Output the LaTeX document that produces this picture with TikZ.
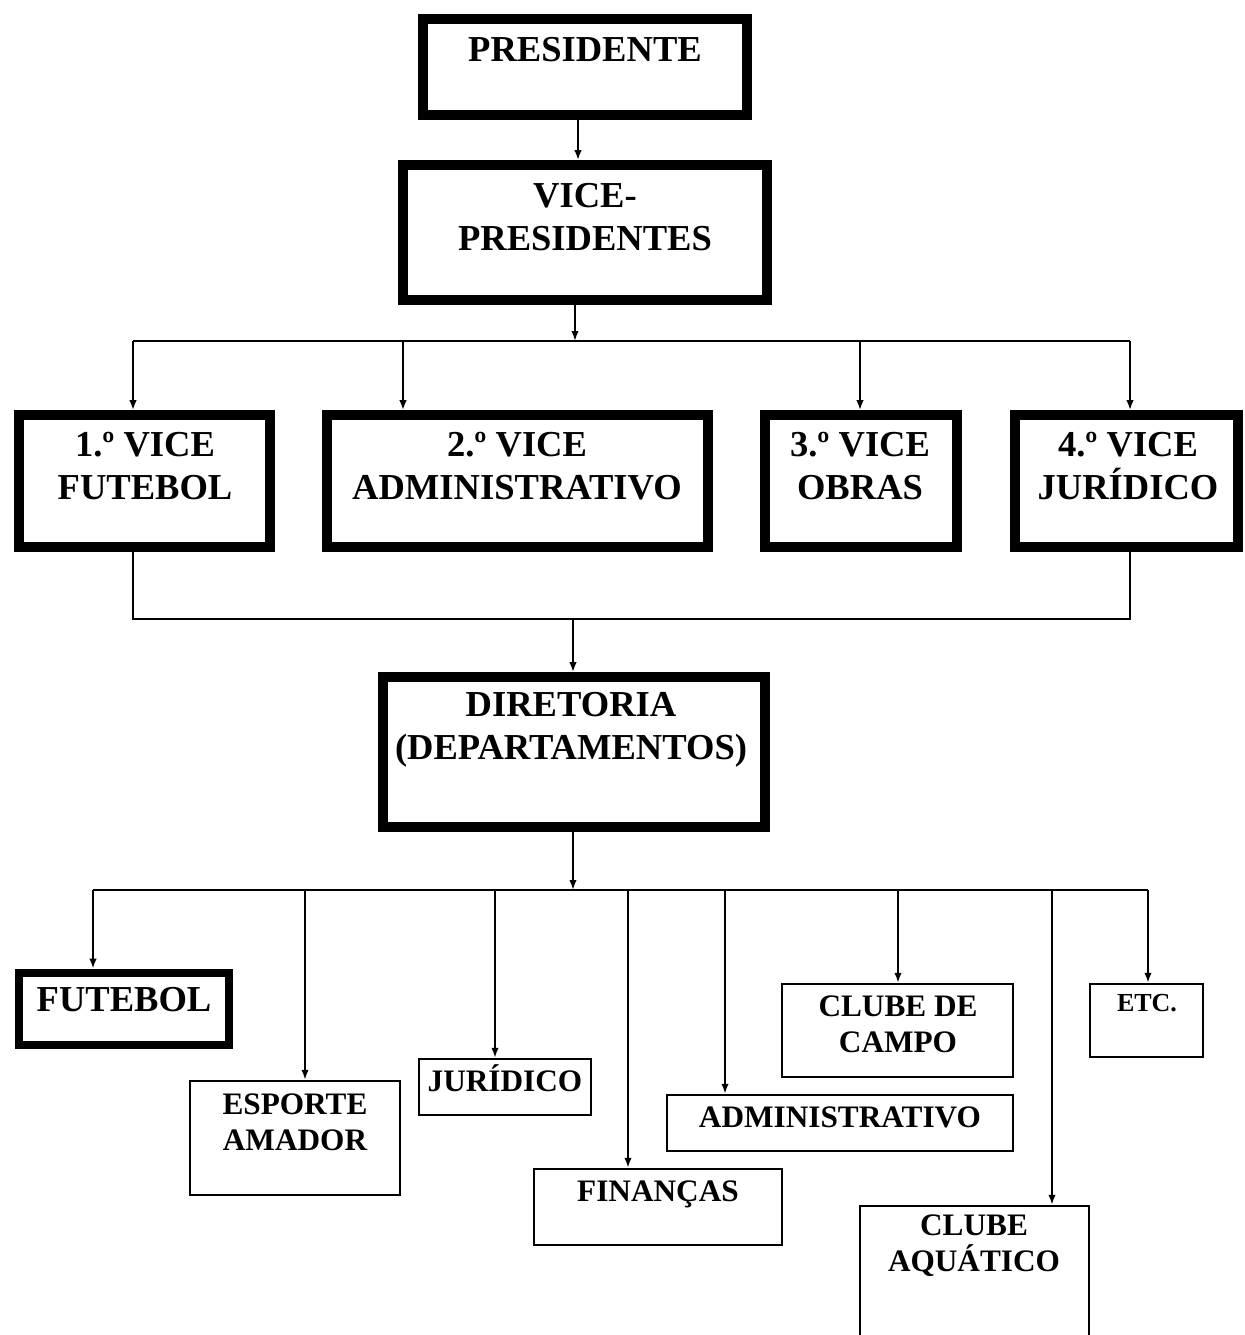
\documentclass[tikz,border=0pt]{standalone}
\usepackage{fontspec}
\setmainfont{Liberation Serif}
\usetikzlibrary{arrows.meta, fit}

\begin{document}
\begin{tikzpicture}[x=0.02cm, y=-0.02cm,
        thickbox/.style={draw, line width=5.5pt, inner sep=0pt},
        thinbox/.style={draw, line width=1.4pt, inner sep=0pt},
        bigtext/.style={font=\fontsize{20.8}{24.5}\selectfont\bfseries, align=center, inner sep=0pt},
        smalltext/.style={font=\fontsize{17.8}{20.5}\selectfont\bfseries, align=center, inner sep=0pt},
        wire/.style={line width=1.1pt},
        conn/.style={wire, -{Latex[length=2mm, width=1.5mm]}}]
        \useasboundingbox (0,0) rectangle (1244,1335);
        % President and vice-presidents
        \node[thickbox, fit={(423,19) (747,115)}] (pres) {};
        \node[bigtext] (presT) at (585,50) {PRESIDENTE};
        \node[thickbox, fit={(403,165) (767,300)}] (vice) {};
        \node[bigtext] (viceT) at (585,217) {VICE-\\PRESIDENTES};
        % Four vice-presidencies
        \node[thickbox, fit={(19,415) (270,547)}] (vone) {};
        \node[bigtext] (voneT) at (145,466) {1.º VICE\\FUTEBOL};
        \node[thickbox, fit={(327,415) (708,547)}] (vtwo) {};
        \node[bigtext] (vtwoT) at (517,466) {2.º VICE\\ADMINISTRATIVO};
        \node[thickbox, fit={(765,415) (957,547)}] (vthree) {};
        \node[bigtext] (vthreeT) at (860,466) {3.º VICE\\OBRAS};
        \node[thickbox, fit={(1015,415) (1238,547)}] (vfour) {};
        \node[bigtext] (vfourT) at (1128,466) {4.º VICE\\JURÍDICO};
        % Board
        \node[thickbox, fit={(383,677) (765,827)}] (dir) {};
        \node[bigtext] (dirT) at (571,730) {DIRETORIA\\(DEPARTAMENTOS)};
        % Departments
        \node[thickbox, line width=5pt, fit={(19,973) (229,1045)}] (fut) {};
        \node[bigtext] (futT) at (124,1000) {FUTEBOL};
        \node[thinbox, fit={(190,1081) (400,1195)}] (esp) {};
        \node[smalltext] (espT) at (295,1122) {ESPORTE\\AMADOR};
        \node[thinbox, fit={(419,1059) (591,1115)}] (jur) {};
        \node[smalltext] (jurT) at (505,1078) {JURÍDICO};
        \node[thinbox, fit={(534,1169) (782,1245)}] (fin) {};
        \node[smalltext] (finT) at (658,1194) {FINANÇAS};
        \node[thinbox, fit={(667,1095) (1013,1151)}] (adm) {};
        \node[smalltext] (admT) at (840,1117) {ADMINISTRATIVO};
        \node[thinbox, fit={(782,984) (1013,1077)}] (campo) {};
        \node[smalltext] (campoT) at (898,1024) {CLUBE DE\\CAMPO};
        \node[thinbox, fit={(860,1206) (1089,1360)}] (aqua) {};
        \node[smalltext] (aquaT) at (974,1246) {CLUBE\\AQUÁTICO};
        \node[thinbox, fit={(1090,984) (1203,1057)}] (etc) {};
        \node[smalltext, font=\fontsize{14.8}{17}\selectfont\bfseries] (etcT) at (1147,1003) {ETC.};
        % Bus points
        \coordinate (pv) at (578,0);
        \coordinate (tv) at (575,341);
        \coordinate (t1) at (133,341);
        \coordinate (t2) at (403,341);
        \coordinate (t3) at (860,341);
        \coordinate (t4) at (1130,341);
        \coordinate (m1) at (133,619);
        \coordinate (md) at (573,619);
        \coordinate (m4) at (1130,619);
        \coordinate (bd) at (573,890);
        \coordinate (b1) at (93,890);
        \coordinate (b2) at (305,890);
        \coordinate (b3) at (495,890);
        \coordinate (b4) at (628,890);
        \coordinate (b5) at (725,890);
        \coordinate (b6) at (898,890);
        \coordinate (b7) at (1052,890);
        \coordinate (b8) at (1148,890);
        % Connectors
        \draw[conn] (pv |- pres.south) -- (pv |- vice.north);
        \draw[conn] (tv |- vice.south) -- (tv);
        \draw[wire] (t1) -- (t4);
        \draw[conn] (t1) -- (t1 |- vone.north);
        \draw[conn] (t2) -- (t2 |- vtwo.north);
        \draw[conn] (t3) -- (t3 |- vthree.north);
        \draw[conn] (t4) -- (t4 |- vfour.north);
        \draw[wire] (m1 |- vone.south) -- (m1) -- (m4) -- (m4 |- vfour.south);
        \draw[conn] (md) -- (md |- dir.north);
        \draw[conn] (bd |- dir.south) -- (bd);
        \draw[wire] (b1) -- (b8);
        \draw[conn] (b1) -- (b1 |- fut.north);
        \draw[conn] (b2) -- (b2 |- esp.north);
        \draw[conn] (b3) -- (b3 |- jur.north);
        \draw[conn] (b4) -- (b4 |- fin.north);
        \draw[conn] (b5) -- (b5 |- adm.north);
        \draw[conn] (b6) -- (b6 |- campo.north);
        \draw[conn] (b7) -- (b7 |- aqua.north);
        \draw[conn] (b8) -- (b8 |- etc.north);
\end{tikzpicture}
\end{document}
